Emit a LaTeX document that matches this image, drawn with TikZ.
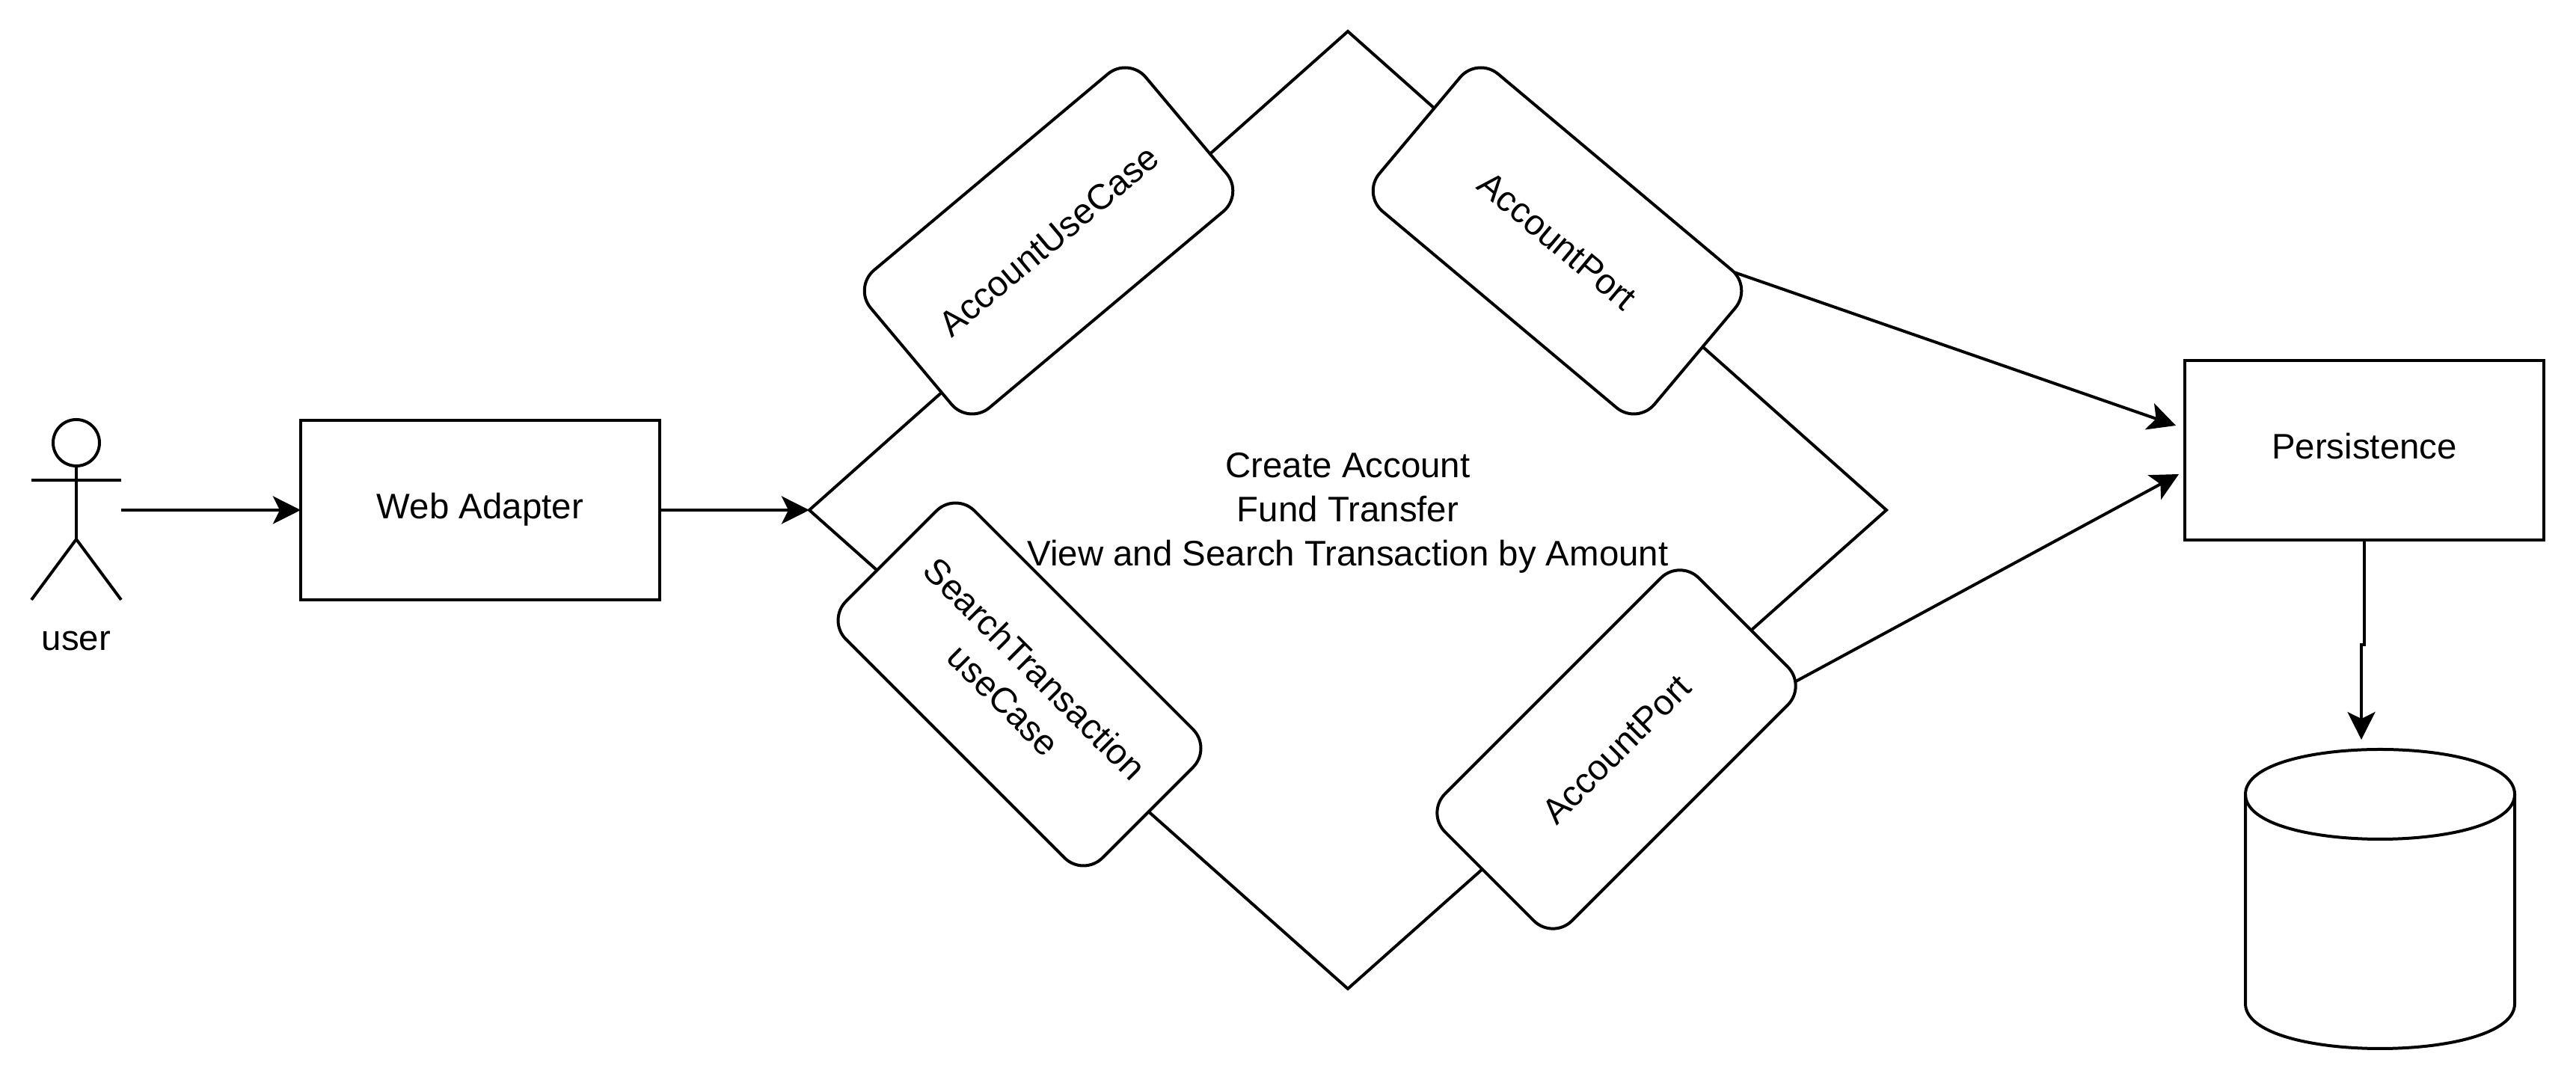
\documentclass[tikz,border=0pt]{standalone}
\usepackage{fontspec}
\setmainfont{Liberation Sans}
\usetikzlibrary{shapes.geometric, arrows.meta, positioning, calc}
\begin{document}
\begin{tikzpicture}[
        line width=0.04cm,
        font=\fontsize{13.5}{16.8}\selectfont,
        box/.style={rectangle, draw=black, minimum width=4.8cm, minimum height=2.4cm, inner sep=0pt, outer sep=0pt, align=center, text height=0.34cm, text depth=0.1cm},
        turned/.style={rectangle, draw=black, fill=white, rounded corners=0.36cm, minimum width=4.8cm, minimum height=2.4cm, inner sep=0pt, outer sep=0pt, align=center},
        arrow/.style={-{Stealth[length=0.37cm, width=0.37cm, inset=0.09cm]}, black}
    ]
        \useasboundingbox (0,0) rectangle (34.44,14.44);

        % actor
        \node[circle, draw=black, minimum size=0.62cm, inner sep=0pt] (userhead) at (1.02,8.52) {};
        \coordinate (userhip) at (1.02,7.23);
        \draw (userhead) -- (userhip);
        \draw (0.42,8.02) -- (1.62,8.02);
        \draw (0.42,6.42) -- (userhip) -- (1.62,6.42);
        \node (user) at (1.02,5.87) {user};
        \coordinate (userhand) at (1.62,7.62);

        \node[box] (web) at (6.42,7.62) {Web Adapter};
        \node[diamond, draw=black, aspect=1.122, minimum width=14.4cm, minimum height=12.8cm, inner sep=0pt, outer sep=0pt, right=2cm of web] (core) {};
        \node[box] (persistence) at (31.61,8.42) {Persistence};

        % database
        \node[minimum width=3.6cm, minimum height=4cm, inner sep=0pt, outer sep=0pt] (db) at (31.82,2.42) {};
        \draw ([yshift=-0.6cm]db.north west) .. controls ([yshift=0.2cm]db.north west) and ([yshift=0.2cm]db.north east) .. ([yshift=-0.6cm]db.north east)
            -- ([yshift=0.6cm]db.south east) .. controls ([yshift=-0.2cm]db.south east) and ([yshift=-0.2cm]db.south west) .. ([yshift=0.6cm]db.south west) -- cycle;
        \draw ([yshift=-0.6cm]db.north west) .. controls ([yshift=-1.4cm]db.north west) and ([yshift=-1.4cm]db.north east) .. ([yshift=-0.6cm]db.north east);

        \node[turned, rotate=40] (usecase) at (14.02,11.22) {AccountUseCase};
        \node[turned, rotate=-40] (portup) at (20.82,11.22) {AccountPort};
        \node[turned, rotate=-45, minimum width=4.85cm, minimum height=2.43cm] (search) at (13.63,5.29) {SearchTransaction\\useCase};
        \node[turned, rotate=45] (portdown) at (21.61,4.42) {AccountPort};

        \node[align=center, yshift=-0.04cm] (features) at (core.center) {Create Account\\Fund Transfer\\View and Search Transaction by Amount};

        \coordinate (dbtop) at (31.57,4.55);

        \draw[arrow] (userhand) -- (web);
        \draw[arrow] (web) -- (core.west);
        \draw[arrow] ($(portup.north)!0.87!(portup.north east)$) -- ([xshift=-0.12cm, yshift=0.33cm]persistence.west);
        \draw[arrow] ([xshift=-0.05cm, yshift=-0.05cm]$(portdown.east)!0.875!(portdown.south east)$) -- ([xshift=-0.08cm, yshift=-0.32cm]persistence.west);
        \draw[arrow] (persistence.south) -- ++(0,-1.4) -| (dbtop);
    \end{tikzpicture}
\end{document}
